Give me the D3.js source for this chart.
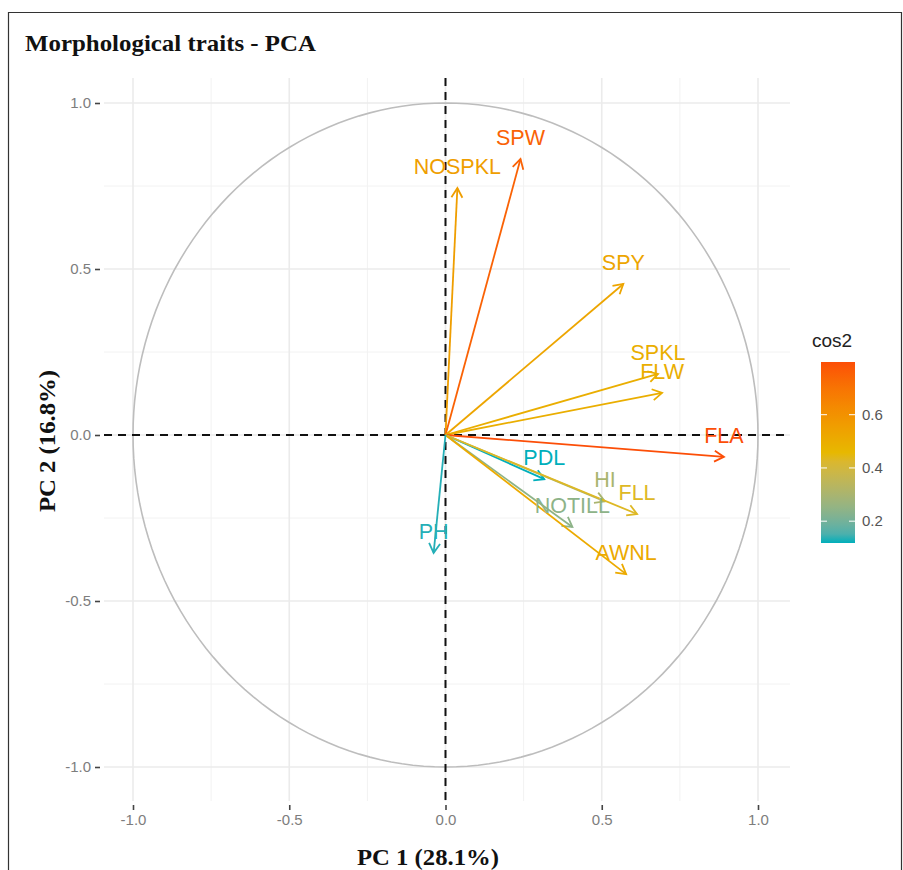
<!DOCTYPE html>
<html>
<head>
<meta charset="utf-8">
<script src="https://cdn.jsdelivr.net/npm/d3@7"></script>
<style>
  body { margin: 0; background: #fff; }
  svg { display: block; }
</style>
</head>
<body>
<script>
// Variable loadings on PC1 / PC2 and their cos2
const vars = ['NOSPKL', 'SPW', 'SPY', 'SPKL', 'FLW', 'FLA', 'PDL', 'HI', 'FLL', 'NOTILL', 'AWNL', 'PH'];
const pc1 = [0.038, 0.240, 0.569, 0.680, 0.693, 0.891, 0.316, 0.510, 0.613, 0.406, 0.578, -0.038];
const pc2 = [0.744, 0.831, 0.455, 0.184, 0.127, -0.066, -0.133, -0.200, -0.238, -0.277, -0.419, -0.355];
const cos2 = [0.555, 0.748, 0.531, 0.496, 0.496, 0.798, 0.118, 0.300, 0.433, 0.242, 0.510, 0.127];

const ticks = [-1.0, -0.5, 0.0, 0.5, 1.0];
const minorTicks = [-0.75, -0.25, 0.25, 0.75];
const legendTicks = [0.2, 0.4, 0.6];
const gradCols = ['#00AFBB', '#E7B800', '#FC4E07'];

const W = 903, H = 870;
const svg = d3.select('body').append('svg').attr('width', W).attr('height', H);
const serif = '"Liberation Serif", "Times New Roman", serif';
const sans = '"Liberation Sans", Arial, sans-serif';

// outer frame
svg.append('path')
  .attr('d', `M8.5,${H} V12.5 H901.5 V${H}`)
  .attr('fill', 'none').attr('stroke', '#333').attr('stroke-width', 1.2);

// title
svg.append('text')
  .attr('x', 25).attr('y', 51)
  .attr('textLength', 291).attr('lengthAdjust', 'spacingAndGlyphs')
  .style('font-family', serif)
  .style('font-weight', 'bold').style('font-size', '23px')
  .attr('fill', '#111')
  .text('Morphological traits - PCA');

// scales
const x = d3.scaleLinear().domain([-1, 1]).range([133, 758]);
const y = d3.scaleLinear().domain([-1, 1]).range([767, 103]);
const panel = { x0: 104, x1: 790, y0: 78, y1: 801 };

const cmin = d3.min(cos2), cmax = d3.max(cos2);
const color = d3.scaleLinear()
  .domain([cmin, (cmin + cmax) / 2, cmax])
  .range(gradCols)
  .interpolate(d3.interpolateLab);

// grid
const grid = svg.append('g');
grid.selectAll('.vminor').data(minorTicks).enter().append('line')
  .attr('x1', d => x(d)).attr('x2', d => x(d))
  .attr('y1', panel.y0).attr('y2', panel.y1)
  .attr('stroke', '#f2f2f2').attr('stroke-width', 1);
grid.selectAll('.hminor').data(minorTicks).enter().append('line')
  .attr('y1', d => y(d)).attr('y2', d => y(d))
  .attr('x1', panel.x0).attr('x2', panel.x1)
  .attr('stroke', '#f2f2f2').attr('stroke-width', 1);
grid.selectAll('.vmajor').data(ticks).enter().append('line')
  .attr('x1', d => x(d)).attr('x2', d => x(d))
  .attr('y1', panel.y0).attr('y2', panel.y1)
  .attr('stroke', '#ebebeb').attr('stroke-width', 1.6);
grid.selectAll('.hmajor').data(ticks).enter().append('line')
  .attr('y1', d => y(d)).attr('y2', d => y(d))
  .attr('x1', panel.x0).attr('x2', panel.x1)
  .attr('stroke', '#ebebeb').attr('stroke-width', 1.6);

// correlation circle
const circle = d3.range(0, 361, 2).map(a => [Math.cos(a * Math.PI / 180), Math.sin(a * Math.PI / 180)]);
svg.append('path')
  .datum(circle)
  .attr('d', d3.line().x(d => x(d[0])).y(d => y(d[1])))
  .attr('fill', 'none').attr('stroke', '#bdbdbd').attr('stroke-width', 1.6);

// dashed zero lines
svg.append('line')
  .attr('x1', x(0)).attr('x2', x(0)).attr('y1', panel.y0).attr('y2', panel.y1)
  .attr('stroke', '#111').attr('stroke-width', 2).attr('stroke-dasharray', '8,6');
svg.append('line')
  .attr('y1', y(0)).attr('y2', y(0)).attr('x1', panel.x0).attr('x2', panel.x1)
  .attr('stroke', '#111').attr('stroke-width', 2).attr('stroke-dasharray', '8,6');

// axes
const tickFmt = d => d3.format('.1f')(d).replace('\u2212', '-');
const xAxis = svg.append('g').attr('transform', `translate(0,${panel.y1 + 4})`)
  .call(d3.axisBottom(x).tickValues(ticks).tickSize(5).tickPadding(4).tickFormat(tickFmt));
const yAxis = svg.append('g').attr('transform', `translate(${panel.x0 - 4},0)`)
  .call(d3.axisLeft(y).tickValues(ticks).tickSize(5).tickPadding(4).tickFormat(tickFmt));
[xAxis, yAxis].forEach(a => {
  a.select('.domain').remove();
  a.selectAll('line').attr('stroke', '#444').attr('stroke-width', 1.6);
  a.selectAll('text')
    .attr('fill', '#7d7d7d')
    .style('font-family', sans)
    .style('font-size', '15px');
});

// axis titles
svg.append('text')
  .attr('x', 428).attr('y', 865)
  .attr('text-anchor', 'middle')
  .attr('textLength', 142).attr('lengthAdjust', 'spacingAndGlyphs')
  .style('font-family', serif)
  .style('font-weight', 'bold').style('font-size', '23px')
  .attr('fill', '#111')
  .text('PC 1 (28.1%)');
svg.append('text')
  .attr('transform', 'translate(55,441) rotate(-90)')
  .attr('text-anchor', 'middle')
  .attr('textLength', 142).attr('lengthAdjust', 'spacingAndGlyphs')
  .style('font-family', serif)
  .style('font-weight', 'bold').style('font-size', '23px')
  .attr('fill', '#111')
  .text('PC 2 (16.8%)');

// arrows
const data = vars.map((v, i) => ({ name: v, x: pc1[i], y: pc2[i], c: cos2[i] }));
const headLen = 11, headAng = Math.PI / 6;
const arrows = svg.append('g');
data.forEach(d => {
  const x0 = x(0), y0 = y(0), x1 = x(d.x), y1 = y(d.y);
  const ang = Math.atan2(y1 - y0, x1 - x0);
  const col = color(d.c);
  arrows.append('line')
    .attr('x1', x0).attr('y1', y0).attr('x2', x1).attr('y2', y1)
    .attr('stroke', col).attr('stroke-width', 1.8);
  const p1 = [x1 - headLen * Math.cos(ang - headAng), y1 - headLen * Math.sin(ang - headAng)];
  const p2 = [x1 - headLen * Math.cos(ang + headAng), y1 - headLen * Math.sin(ang + headAng)];
  arrows.append('path')
    .attr('d', `M${p1[0]},${p1[1]} L${x1},${y1} L${p2[0]},${p2[1]}`)
    .attr('fill', 'none').attr('stroke', col).attr('stroke-width', 1.8)
    .attr('stroke-linejoin', 'miter');
});

// labels
svg.append('g').selectAll('text').data(data).enter().append('text')
  .attr('x', d => x(d.x))
  .attr('y', d => y(d.y) - 14)
  .attr('text-anchor', 'middle')
  .attr('fill', d => color(d.c))
  .style('font-family', sans)
  .style('font-size', '21.5px')
  .text(d => d.name);

// colour legend
const lg = { x: 821, y: 362, w: 34, h: 181 };
svg.append('text')
  .attr('x', lg.x - 9).attr('y', 347)
  .style('font-family', sans)
  .style('font-size', '19px').attr('fill', '#222')
  .text('cos2');

const defs = svg.append('defs');
const grad = defs.append('linearGradient').attr('id', 'cos2grad')
  .attr('x1', 0).attr('y1', 1).attr('x2', 0).attr('y2', 0);
d3.range(0, 1.0001, 0.05).forEach(t => {
  grad.append('stop').attr('offset', t).attr('stop-color', color(cmin + t * (cmax - cmin)));
});
svg.append('rect')
  .attr('x', lg.x).attr('y', lg.y).attr('width', lg.w).attr('height', lg.h)
  .attr('fill', 'url(#cos2grad)');

const ly = d3.scaleLinear().domain([cmin, cmax]).range([lg.y + lg.h, lg.y]);
const lt = svg.append('g');
legendTicks.forEach(t => {
  lt.append('line').attr('x1', lg.x).attr('x2', lg.x + 6).attr('y1', ly(t)).attr('y2', ly(t))
    .attr('stroke', '#fff').attr('stroke-width', 1);
  lt.append('line').attr('x1', lg.x + lg.w - 6).attr('x2', lg.x + lg.w).attr('y1', ly(t)).attr('y2', ly(t))
    .attr('stroke', '#fff').attr('stroke-width', 1);
  lt.append('text')
    .attr('x', lg.x + lg.w + 7).attr('y', ly(t)).attr('dy', '0.35em')
    .style('font-family', sans)
    .style('font-size', '15px').attr('fill', '#555')
    .text(tickFmt(t));
});
</script>
</body>
</html>
